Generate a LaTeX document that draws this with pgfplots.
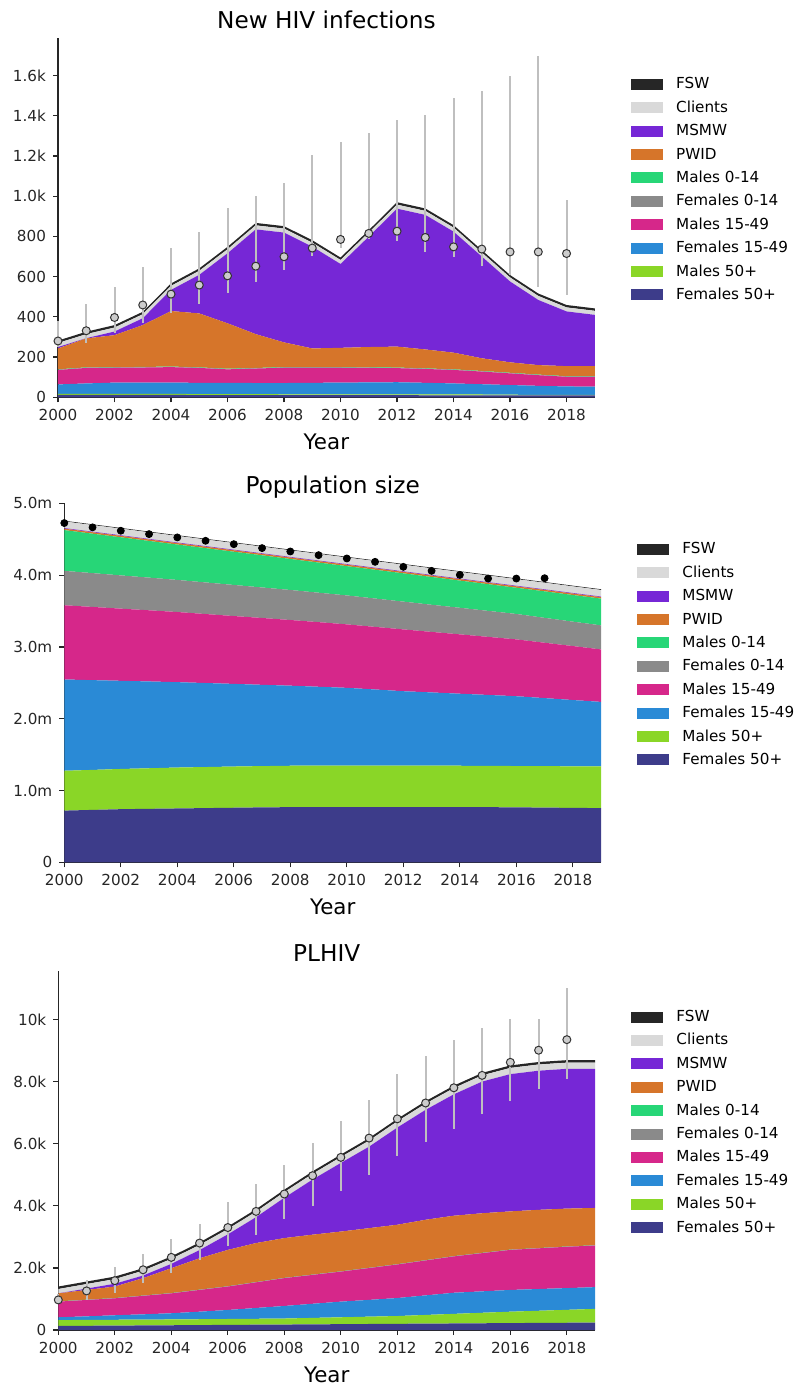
\documentclass[border=0pt]{standalone}
\usepackage{pgfplots}
\pgfplotsset{compat=1.18}
\usepackage{pgfplotstable}
\usepackage{fontspec}
\setmainfont{DejaVu Sans}

\definecolor{cFSW}{HTML}{262626}
\definecolor{cCl}{HTML}{D9D9D9}
\definecolor{cMSMW}{HTML}{7627D6}
\definecolor{cPWID}{HTML}{D6752A}
\definecolor{cMa}{HTML}{27D677}
\definecolor{cFa}{HTML}{8A8A8A}
\definecolor{cMb}{HTML}{D6278A}
\definecolor{cFb}{HTML}{2A8AD6}
\definecolor{cMc}{HTML}{8AD627}
\definecolor{cFc}{HTML}{3D3C8A}

% new infections, one column per group
\pgfplotstableread{
year f50 m50 f15 m15 f014 m014 pwid msmw cl fsw
2000 12 5 47 72 1 2 104 7 20 12
2001 12 5 52 77 1 2 144 1 20 12
2002 12 5 56 74 1 2 159 18 20 12
2003 12 5 56 75 1 2 208 34 20 12
2004 12 5 56 77 1 2 276 105 20 12
2005 11 5 56 74 1 2 268 192 20 12
2006 11 5 56 67 1 2 226 348 20 12
2007 11 5 55 72 1 2 168 521 20 12
2008 11 4 56 76 1 2 123 546 20 12
2009 11 4 57 75 1 2 93 506 20 12
2010 11 4 58 74 1 2 96 417 20 12
2011 11 4 59 72 1 2 101 549 20 12
2012 11 4 60 70 1 2 104 686 20 12
2013 10 4 58 69 1 2 94 669 20 12
2014 10 4 55 67 1 2 83 602 20 12
2015 10 4 51 63 1 2 63 506 20 12
2016 9 4 48 58 1 2 52 402 20 12
2017 9 3 45 53 1 2 47 324 20 12
2018 9 3 42 48 1 2 50 272 20 12
2019 9 3 41 49 1 2 50 255 20 12
}\infections

\pgfplotstableread{
year v ep em
2000 280 100 30
2001 331 133 63
2002 397 149 79
2003 459 187 91
2004 513 227 96
2005 558 265 95
2006 604 335 84
2007 652 350 78
2008 699 369 67
2009 742 462 39
2010 785 482 45
2011 815 501 30
2012 826 555 48
2013 795 607 72
2014 748 742 50
2015 737 786 85
2016 723 875 113
2017 723 974 177
2018 715 265 207
}\infpts

% population size (millions)
\pgfplotstableread{
year f50 m50 f15 m15 f014 m014 pwid msmw cl fsw
2000 0.720 0.555 1.271 1.034 0.479 0.568 0.020 0.008 0.092 0.010
2001 0.730 0.557 1.250 1.020 0.471 0.549 0.020 0.008 0.092 0.010
2002 0.740 0.560 1.228 1.005 0.463 0.531 0.020 0.008 0.092 0.010
2003 0.745 0.565 1.209 0.991 0.455 0.511 0.020 0.008 0.092 0.010
2004 0.750 0.570 1.189 0.977 0.447 0.493 0.020 0.008 0.092 0.010
2005 0.755 0.572 1.170 0.961 0.440 0.478 0.020 0.008 0.092 0.010
2006 0.760 0.574 1.151 0.945 0.433 0.463 0.020 0.008 0.092 0.010
2007 0.765 0.575 1.132 0.931 0.425 0.448 0.020 0.008 0.092 0.010
2008 0.768 0.577 1.115 0.915 0.418 0.432 0.020 0.008 0.092 0.010
2009 0.770 0.577 1.098 0.900 0.410 0.420 0.020 0.008 0.092 0.010
2010 0.770 0.577 1.083 0.884 0.403 0.408 0.020 0.008 0.092 0.010
2011 0.770 0.576 1.061 0.872 0.395 0.401 0.020 0.008 0.092 0.010
2012 0.770 0.575 1.038 0.861 0.387 0.394 0.020 0.008 0.092 0.010
2013 0.770 0.575 1.021 0.843 0.378 0.387 0.020 0.008 0.092 0.010
2014 0.770 0.575 1.003 0.827 0.370 0.379 0.020 0.008 0.092 0.010
2015 0.768 0.575 0.988 0.809 0.362 0.372 0.020 0.008 0.092 0.010
2016 0.765 0.576 0.972 0.792 0.354 0.365 0.020 0.008 0.092 0.010
2017 0.762 0.577 0.948 0.771 0.347 0.369 0.020 0.008 0.092 0.010
2018 0.758 0.579 0.923 0.752 0.340 0.371 0.020 0.008 0.092 0.010
2019 0.755 0.580 0.899 0.731 0.335 0.373 0.020 0.008 0.092 0.010
}\popsize

\pgfplotstableread{
year v
2000 4.725
2001 4.665
2002 4.618
2003 4.571
2004 4.525
2005 4.478
2006 4.431
2007 4.376
2008 4.329
2009 4.278
2010 4.232
2011 4.185
2012 4.115
2013 4.059
2014 4.003
2015 3.952
2016 3.952
2017 3.957
}\poppts

% PLHIV (thousands)
\pgfplotstableread{
year f50 m50 f15 m15 f014 m014 pwid msmw cl fsw
2000 0.130 0.190 0.090 0.504 0.005 0.005 0.256 0.000 0.140 0.080
2001 0.136 0.189 0.115 0.527 0.005 0.005 0.313 0.045 0.145 0.080
2002 0.142 0.188 0.145 0.545 0.005 0.005 0.370 0.090 0.150 0.080
2003 0.147 0.188 0.170 0.595 0.005 0.005 0.560 0.085 0.155 0.080
2004 0.153 0.187 0.200 0.640 0.005 0.005 0.800 0.140 0.160 0.080
2005 0.159 0.188 0.243 0.700 0.005 0.005 1.010 0.265 0.165 0.080
2006 0.165 0.190 0.290 0.755 0.005 0.005 1.170 0.500 0.170 0.080
2007 0.171 0.191 0.348 0.825 0.005 0.005 1.255 0.835 0.175 0.080
2008 0.176 0.194 0.404 0.896 0.005 0.005 1.280 1.300 0.180 0.080
2009 0.182 0.208 0.455 0.930 0.005 0.005 1.285 1.775 0.185 0.080
2010 0.188 0.222 0.504 0.966 0.005 0.005 1.280 2.210 0.190 0.080
2011 0.194 0.236 0.540 1.025 0.005 0.005 1.275 2.625 0.195 0.080
2012 0.200 0.250 0.580 1.080 0.005 0.005 1.270 3.130 0.200 0.080
2013 0.205 0.280 0.630 1.125 0.005 0.005 1.300 3.540 0.200 0.080
2014 0.211 0.309 0.680 1.170 0.005 0.005 1.300 3.910 0.200 0.080
2015 0.217 0.338 0.690 1.230 0.005 0.005 1.275 4.240 0.200 0.080
2016 0.223 0.367 0.700 1.290 0.005 0.005 1.230 4.420 0.200 0.080
2017 0.229 0.391 0.700 1.310 0.005 0.005 1.230 4.480 0.200 0.080
2018 0.234 0.416 0.700 1.330 0.005 0.005 1.220 4.500 0.200 0.080
2019 0.240 0.440 0.700 1.340 0.005 0.005 1.200 4.480 0.200 0.080
}\plhiv

\pgfplotstableread{
year v ep em
2000 0.97 0.18 0.12
2001 1.26 0.35 0.29
2002 1.59 0.45 0.41
2003 1.94 0.50 0.41
2004 2.34 0.59 0.51
2005 2.80 0.62 0.54
2006 3.30 0.82 0.61
2007 3.82 0.89 0.76
2008 4.38 0.94 0.81
2009 4.97 1.05 0.99
2010 5.56 1.16 1.08
2011 6.18 1.24 1.20
2012 6.80 1.43 1.21
2013 7.31 1.51 1.24
2014 7.80 1.53 1.33
2015 8.20 1.51 1.23
2016 8.62 1.40 1.23
2017 9.01 1.01 1.24
2018 9.35 1.67 1.26
}\plhivpts

\pgfplotsset{
  panel/.style={
    scale only axis, width=268.4pt, height=179.5pt,
    xmin=2000, xmax=2019, ymin=0,
    axis x line*=bottom, axis y line*=left,
    axis line style={-, line width=0.7pt, draw=black!85},
    tick align=outside, major tick length=2.5pt,
    major tick style={line width=0.6pt, draw=black!85},
    xtick={2000,2002,...,2018},
    xticklabels={2000,2002,2004,2006,2008,2010,2012,2014,2016,2018},
    scaled y ticks=false,
    tick label style={font=\fontsize{7.6}{9}\selectfont, text=black!85},
    xlabel={Year},
    xlabel style={at={(axis description cs:0.5,0)}, anchor=base, yshift=-26pt,
      font=\fontsize{10.7}{12}\selectfont},
    title style={at={(axis description cs:0.5,1)}, anchor=base, yshift=-1pt,
      font=\fontsize{11.6}{13}\selectfont},
    stack plots=y,
    reverse legend, legend cell align=left,
    legend image code/.code={\fill[##1] (0pt,-2.75pt) rectangle (16pt,2.75pt);},
    legend style={draw=none, fill=none, inner sep=0pt,
      at={(axis description cs:1.067,0.877)}, anchor=north west, yshift=3pt,
      font=\fontsize{7.6}{9}\selectfont, row sep=4.2pt,
      nodes={inner sep=0pt, text height=6pt, text depth=1.5pt},
      /tikz/every odd column/.append style={column sep=6.5pt}},
  },
  pts/.style={scale only axis, width=268.4pt, height=179.5pt,
    xmin=2000, xmax=2019, ymin=0, hide axis, clip=false},
  openpts/.style={only marks, mark=*, mark size=2pt,
    mark options={fill=black!20, draw=black!80, line width=0.5pt},
    error bars/.cd, y dir=both, y explicit, error mark=none,
    error bar style={line width=1pt, draw=black!25}},
}

\newcommand{\layers}[1]{%
  \addplot[fill=cFc, draw=none] table[x=year, y=f50] {#1} \closedcycle;
  \addlegendentry{Females 50+}
  \addplot[fill=cMc, draw=none] table[x=year, y=m50] {#1} \closedcycle;
  \addlegendentry{Males 50+}
  \addplot[fill=cFb, draw=none] table[x=year, y=f15] {#1} \closedcycle;
  \addlegendentry{Females 15-49}
  \addplot[fill=cMb, draw=none] table[x=year, y=m15] {#1} \closedcycle;
  \addlegendentry{Males 15-49}
  \addplot[fill=cFa, draw=none] table[x=year, y=f014] {#1} \closedcycle;
  \addlegendentry{Females 0-14}
  \addplot[fill=cMa, draw=none] table[x=year, y=m014] {#1} \closedcycle;
  \addlegendentry{Males 0-14}
  \addplot[fill=cPWID, draw=none] table[x=year, y=pwid] {#1} \closedcycle;
  \addlegendentry{PWID}
  \addplot[fill=cMSMW, draw=none] table[x=year, y=msmw] {#1} \closedcycle;
  \addlegendentry{MSMW}
  \addplot[fill=cCl, draw=none] table[x=year, y=cl] {#1} \closedcycle;
  \addlegendentry{Clients}
  \addplot[fill=cFSW, draw=none] table[x=year, y=fsw] {#1} \closedcycle;
  \addlegendentry{FSW}
}

\begin{document}
\begin{tikzpicture}
\useasboundingbox (0,0) rectangle (397.5pt,-693.5pt);

% New HIV infections
\begin{axis}[panel, at={(29pt,-198.65pt)}, anchor=south west,
  title={New HIV infections}, ymax=1785,
  ytick={0,200,...,1600},
  yticklabels={0,200,400,600,800,1.0k,1.2k,1.4k,1.6k}]
\layers{\infections}
\end{axis}
\begin{axis}[pts, at={(29pt,-198.65pt)}, anchor=south west, ymax=1785]
\addplot[openpts] table[x=year, y=v, y error plus=ep, y error minus=em] {\infpts};
\end{axis}

% Population size
\begin{axis}[panel, at={(32.15pt,-431.15pt)}, anchor=south west,
  title={Population size}, ymax=5,
  ytick={0,1,...,5},
  yticklabels={0,1.0m,2.0m,3.0m,4.0m,5.0m}]
\layers{\popsize}
\end{axis}
\begin{axis}[pts, at={(32.15pt,-431.15pt)}, anchor=south west, ymax=5]
\addplot[only marks, mark=*, mark size=1.75pt, mark options={fill=black, draw=black}]
  table[x=year, y=v] {\poppts};
\end{axis}

% PLHIV
\begin{axis}[panel, at={(29.15pt,-665pt)}, anchor=south west,
  title={PLHIV}, ymax=11.56,
  ytick={0,2,...,10},
  yticklabels={0,2.0k,4.0k,6.0k,8.0k,10k}]
\layers{\plhiv}
\end{axis}
\begin{axis}[pts, at={(29.15pt,-665pt)}, anchor=south west, ymax=11.56]
\addplot[openpts] table[x=year, y=v, y error plus=ep, y error minus=em] {\plhivpts};
\end{axis}
\end{tikzpicture}
\end{document}
